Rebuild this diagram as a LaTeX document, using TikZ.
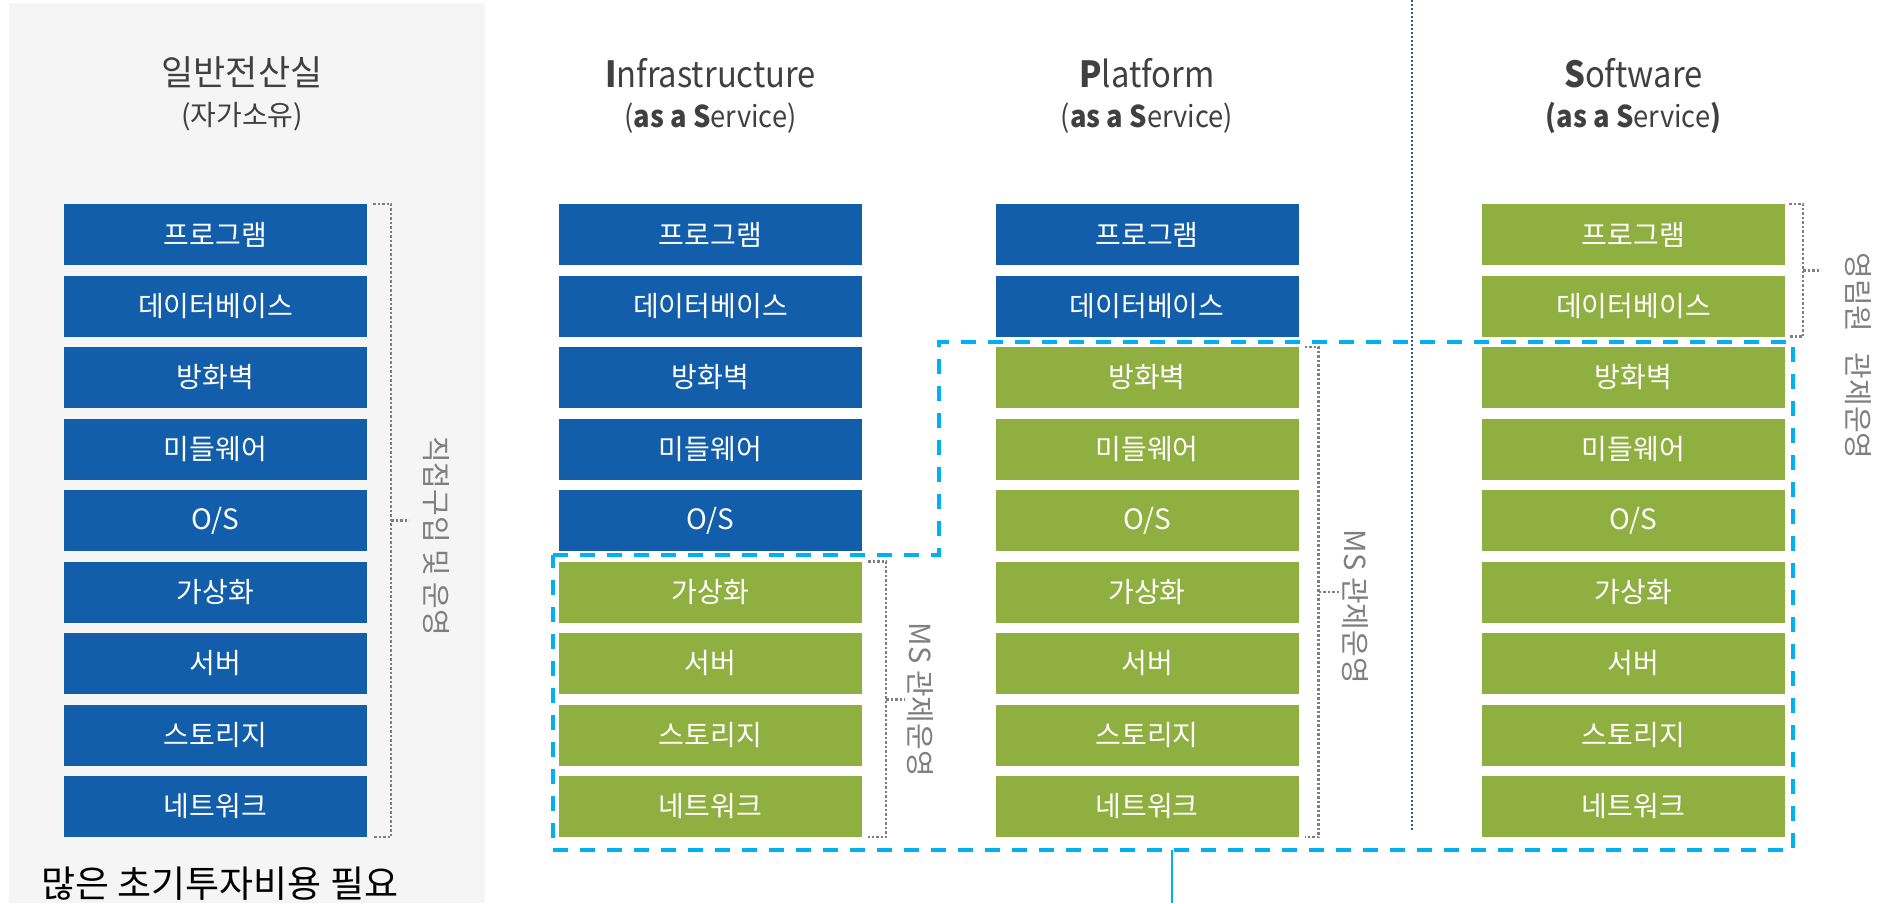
\documentclass[tikz,border=0pt]{standalone}
\usepackage{fontspec}
\setmainfont{Noto Sans CJK KR}
\newfontfamily\narrowfont[FakeStretch=0.91]{Noto Sans CJK KR}
\usetikzlibrary{calc}
\definecolor{boxblue}{HTML}{135EAA}
\definecolor{boxgreen}{HTML}{8FB041}
\definecolor{mscyan}{HTML}{00B0F0}
\definecolor{brkgray}{HTML}{7F7F7F}
\definecolor{dotblue}{HTML}{2F5597}
\definecolor{panelgray}{HTML}{F5F5F5}
\definecolor{titlegray}{HTML}{404040}
\tikzset{
  box/.style={minimum width=303pt, minimum height=61pt, inner sep=0pt, text=white,
    font=\fontsize{28}{32}\selectfont},
  brk/.style={draw=brkgray, line width=2.5pt, dash pattern=on 2.5pt off 2pt},
  vlab/.style={rotate=-90, text=brkgray, inner sep=0pt, font=\fontsize{29}{33}\selectfont},
  msdash/.style={draw=mscyan, line width=3.5pt, dash pattern=on 15pt off 12pt},
  tlone/.style={anchor=base, text=titlegray, inner sep=0pt, font=\narrowfont\fontsize{36}{40}\selectfont},
  tltwo/.style={anchor=base, text=titlegray, inner sep=0pt, font=\narrowfont\fontsize{30}{34}\selectfont},
  tkone/.style={anchor=base, text=titlegray, inner sep=0pt, font=\fontsize{35}{38}\selectfont},
  tktwo/.style={anchor=base, text=titlegray, inner sep=0pt, font=\fontsize{28}{31}\selectfont}
}
\begin{document}
\begin{tikzpicture}[x=1pt,y=-1pt]
\useasboundingbox (0,0) rectangle (1880,903);
% panel
\fill[panelgray] (9,3) rectangle (485,903);
% vertical dotted separator
\coordinate (sepT) at (1412,0);
\coordinate (sepB) at (1412,830);
\draw[dotblue, line width=2pt, dash pattern=on 2pt off 2pt] (sepT) -- (sepB);
% titles
\node[tkone] (t0a) at (242,85) {일반전산실};
\node[tktwo] (t0b) at (242,125) {(자가소유)};
\node[tlone] (t1a) at (710.5,87) {\textbf{I}nfrastructure};
\node[tltwo] (t1b) at (710.5,127) {(\textbf{as a S}ervice)};
\node[tlone] (t2a) at (1147,87) {\textbf{P}latform};
\node[tltwo] (t2b) at (1147,127) {(\textbf{as a S}ervice)};
\node[tlone] (t3a) at (1633.5,87) {\textbf{S}oftware};
\node[tltwo] (t3b) at (1633.5,127) {\textbf{(as a S}ervice\textbf{)}};
% boxes
\foreach \t [count=\i] in {프로그램,데이터베이스,방화벽,미들웨어,O/S,가상화,서버,스토리지,네트워크}{
  \pgfmathsetmacro\yy{234.5+71.5*(\i-1)}
  \ifnum\i>5 \def\ci{boxgreen}\else\def\ci{boxblue}\fi
  \ifnum\i>2 \def\cp{boxgreen}\else\def\cp{boxblue}\fi
  \node[box, fill=boxblue] (L\i) at (215.5,\yy) {\t};
  \node[box, fill=\ci] (I\i) at (710.5,\yy) {\t};
  \node[box, fill=\cp] (P\i) at (1147,\yy) {\t};
  \node[box, fill=boxgreen] (S\i) at (1633.5,\yy) {\t};
}
% MS managed region
\draw[msdash] (553,555) -- (939,555) -- (939,342) -- (1793,342) -- (1793,850) -- (553,850) -- cycle;
\coordinate (msb) at (1172,850);
\coordinate (msend) at (1172,903);
\draw[mscyan, line width=1.8pt] (msb) -- (msend);
% brackets
\draw[brk] ($(L1.north east)+(6,0)$) -| ($(L9.south east)+(24,0)$) -- ($(L9.south east)+(6,0)$);
\draw[brk] ($(L1.north east)!0.5!(L9.south east)+(24,0)$) -- +(18,0);
\node[vlab] (labL) at (436,536) {직접구입 및 운영};
\draw[brk] ($(I6.north east)+(6,0)$) -| ($(I9.south east)+(24,0)$) -- ($(I9.south east)+(6,0)$);
\draw[brk] ($(I6.north east)!0.5!(I9.south east)+(24,0)$) -- +(19,0);
\node[vlab] (labI) at (920,700) {MS 관제운영};
\draw[brk] ($(P3.north east)+(6,0)$) -| ($(P9.south east)+(20,0)$) -- ($(P9.south east)+(6,0)$);
\draw[brk] ($(P3.north east)!0.5!(P9.south east)+(20,0)$) -- +(21,0);
\node[vlab] (labP) at (1355,607) {MS 관제운영};
\draw[brk] ($(S1.north east)+(4,0)$) -| ($(S2.south east)+(18,0)$) -- ($(S2.south east)+(4,0)$);
\draw[brk] ($(S1.north east)!0.5!(S2.south east)+(18,0)$) -- +(18,0);
\node[vlab] (labS) at (1858,356) {영림원\hspace{0.7em}관제운영};
% bottom note
\node[anchor=west, inner sep=0pt, font=\fontsize{37}{40}\selectfont] (cost) at (41,884) {많은 초기투자비용 필요};
\end{tikzpicture}
\end{document}
